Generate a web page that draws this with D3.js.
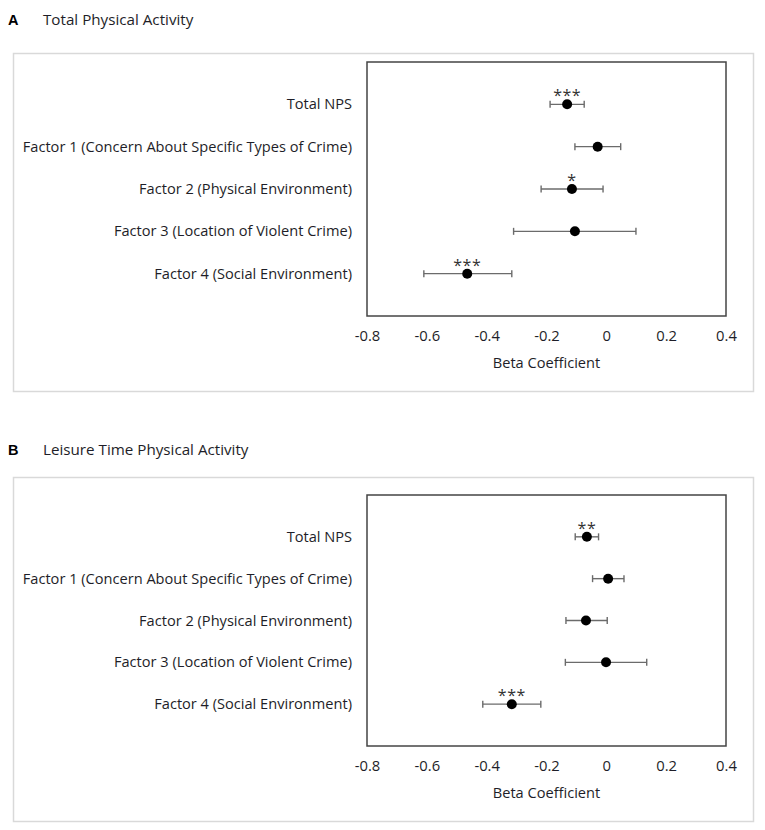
<!DOCTYPE html>
<html>
<head>
<meta charset="utf-8">
<script src="https://cdn.jsdelivr.net/npm/d3@7"></script>
<style>
  body { margin: 0; background: #fff; }
  text { font-family: "Open Sans", Lato, sans-serif; fill: #1e1e28; }
</style>
</head>
<body>
<div id="chart"></div>
<script>
'use strict';

// rows, top to bottom
var categories = [
  'Total NPS',
  'Factor 1 (Concern About Specific Types of Crime)',
  'Factor 2 (Physical Environment)',
  'Factor 3 (Location of Violent Crime)',
  'Factor 4 (Social Environment)'
];

// panel A - total physical activity
var totalBeta = [-0.131, -0.029, -0.115, -0.105, -0.465];
var totalLow  = [-0.188, -0.105, -0.218, -0.310, -0.610];
var totalHigh = [-0.074,  0.048, -0.011,  0.099, -0.316];
var totalSig  = ['***', '', '*', '', '***'];

// panel B - leisure time physical activity
var leisureBeta = [-0.065, 0.006, -0.068, -0.001, -0.316];
var leisureLow  = [-0.104, -0.046, -0.135, -0.137, -0.413];
var leisureHigh = [-0.026, 0.059, 0.003, 0.135, -0.219];
var leisureSig  = ['**', '', '', '', '***'];

var xTicks = [-0.8, -0.6, -0.4, -0.2, 0, 0.2, 0.4];

var width = 765,
    height = 830;

var panels = [
  {letter: 'A', title: 'Total Physical Activity', beta: totalBeta, low: totalLow, high: totalHigh, sig: totalSig,
   top: 0, outer: [53, 391], plot: [62, 316]},
  {letter: 'B', title: 'Leisure Time Physical Activity', beta: leisureBeta, low: leisureLow, high: leisureHigh, sig: leisureSig,
   top: 430, outer: [477, 821], plot: [495, 746]}
];

var svg = d3.select('#chart').append('svg')
    .attr('width', width)
    .attr('height', height);

var x = d3.scaleLinear()
    .domain([-0.8, 0.4])
    .range([367, 726]);

panels.forEach(function(p) {
  var g = svg.append('g');

  var y = d3.scaleLinear()
      .domain([0, categories.length + 1])
      .range(p.plot);

  // panel heading
  g.append('text')
      .attr('x', 8)
      .attr('y', p.top + 25)
      .style('font-family', '"Liberation Sans", Arial, sans-serif')
      .style('font-weight', 'bold')
      .style('font-size', '14.5px')
      .style('fill', '#000')
      .text(p.letter);

  g.append('text')
      .attr('x', 43)
      .attr('y', p.top + 25)
      .style('font-size', '15.2px')
      .text(p.title);

  // outer frame
  g.append('rect')
      .attr('x', 13.5)
      .attr('y', p.outer[0] + 0.5)
      .attr('width', 740)
      .attr('height', p.outer[1] - p.outer[0])
      .attr('fill', 'none')
      .attr('stroke', '#d9d9d9')
      .attr('stroke-width', 1.5);

  // plot frame
  g.append('rect')
      .attr('x', x.range()[0])
      .attr('y', p.plot[0])
      .attr('width', x.range()[1] - x.range()[0])
      .attr('height', p.plot[1] - p.plot[0])
      .attr('fill', 'none')
      .attr('stroke', '#444')
      .attr('stroke-width', 1.5);

  // x axis
  var axis = g.append('g')
      .attr('transform', 'translate(0,' + p.plot[1] + ')')
      .call(d3.axisBottom(x)
        .tickValues(xTicks)
        .tickSize(0)
        .tickPadding(14)
        .tickFormat(function(d) { return d === 0 ? '0' : d.toFixed(1); }));
  axis.select('.domain').remove();
  axis.selectAll('text')
      .style('font-family', '"Open Sans", Lato, sans-serif')
      .style('font-size', '14.8px')
      .style('fill', '#1e1e28');

  g.append('text')
      .attr('x', (x.range()[0] + x.range()[1]) / 2)
      .attr('y', p.plot[1] + 52)
      .attr('text-anchor', 'middle')
      .style('font-size', '14.6px')
      .text('Beta Coefficient');

  // row labels
  g.selectAll('text.cat')
      .data(categories)
    .enter().append('text')
      .attr('class', 'cat')
      .attr('x', 352)
      .attr('y', function(d, i) { return y(i + 1); })
      .attr('dy', '.35em')
      .attr('text-anchor', 'end')
      .style('font-size', '14.6px')
      .text(function(d) { return d; });

  var rows = categories.map(function(c, i) {
    return {beta: p.beta[i], low: p.low[i], high: p.high[i], sig: p.sig[i], row: i + 1};
  });

  // error bars
  var bars = g.selectAll('g.bar')
      .data(rows)
    .enter().append('g')
      .attr('class', 'bar')
      .attr('stroke', '#6b6b6b')
      .attr('stroke-width', 1.4);

  bars.append('line')
      .attr('x1', function(d) { return x(d.low); })
      .attr('x2', function(d) { return x(d.high); })
      .attr('y1', function(d) { return y(d.row); })
      .attr('y2', function(d) { return y(d.row); });

  bars.selectAll('line.cap')
      .data(function(d) { return [d.low, d.high].map(function(v) { return {v: v, row: d.row}; }); })
    .enter().append('line')
      .attr('class', 'cap')
      .attr('x1', function(d) { return x(d.v); })
      .attr('x2', function(d) { return x(d.v); })
      .attr('y1', function(d) { return y(d.row) - 3.5; })
      .attr('y2', function(d) { return y(d.row) + 3.5; });

  // points
  g.selectAll('circle')
      .data(rows)
    .enter().append('circle')
      .attr('cx', function(d) { return x(d.beta); })
      .attr('cy', function(d) { return y(d.row); })
      .attr('r', 5)
      .attr('fill', '#000');

  // significance stars
  g.selectAll('text.sig')
      .data(rows.filter(function(d) { return d.sig; }))
    .enter().append('text')
      .attr('class', 'sig')
      .attr('x', function(d) { return x(d.beta); })
      .attr('y', function(d) { return y(d.row) - 3; })
      .attr('text-anchor', 'middle')
      .style('font-size', '16px')
      .style('letter-spacing', '0.5px')
      .style('fill', '#333')
      .text(function(d) { return d.sig; });
});
</script>
</body>
</html>
